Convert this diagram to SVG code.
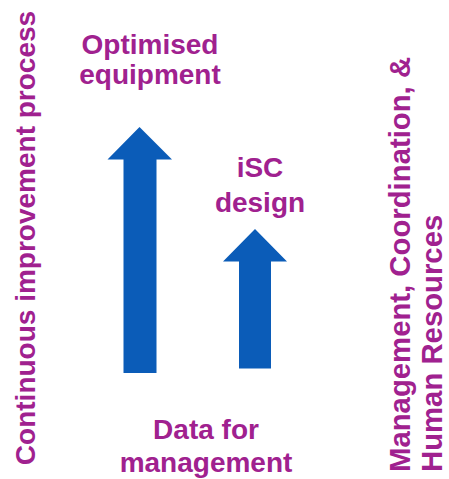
<svg xmlns="http://www.w3.org/2000/svg" width="449" height="479" viewBox="0 0 449 479">
<style>
.t{font-family:"Liberation Sans",Arial,sans-serif;font-weight:bold;font-size:28px;fill:#A0218F}
.r{font-size:29.3px}
.c{text-anchor:middle}
.a{fill:#0B5CB8}
</style>
<rect width="449" height="479" fill="#fff"/>
<g id="left-label"><text class="t c" transform="translate(35,238) rotate(-90)">Continuous improvement process</text></g>
<g id="right-label"><text class="t r" transform="translate(410,472) rotate(-90)">Management, Coordination, &amp;</text><text class="t r" transform="translate(442,472) rotate(-90)">Human Resources</text></g>
<g id="optimised"><text class="t c" x="150" y="54">Optimised</text><text class="t c" x="150" y="84">equipment</text></g>
<g id="isc"><text class="t c" x="260" y="177">iSC</text><text class="t c" x="260" y="212">design</text></g>
<g id="data"><text class="t c" x="206" y="439">Data for</text><text class="t c" x="206" y="472">management</text></g>
<g id="connectors">
<path class="a" d="M139.5,127 L172,159.5 L156.5,159.5 L156.5,373 L123.5,373 L123.5,159.5 L107.5,159.5 Z"/>
<path class="a" d="M255,229 L287,261.5 L271,261.5 L271,368.5 L239,368.5 L239,261.5 L223,261.5 Z"/>
</g>
</svg>
